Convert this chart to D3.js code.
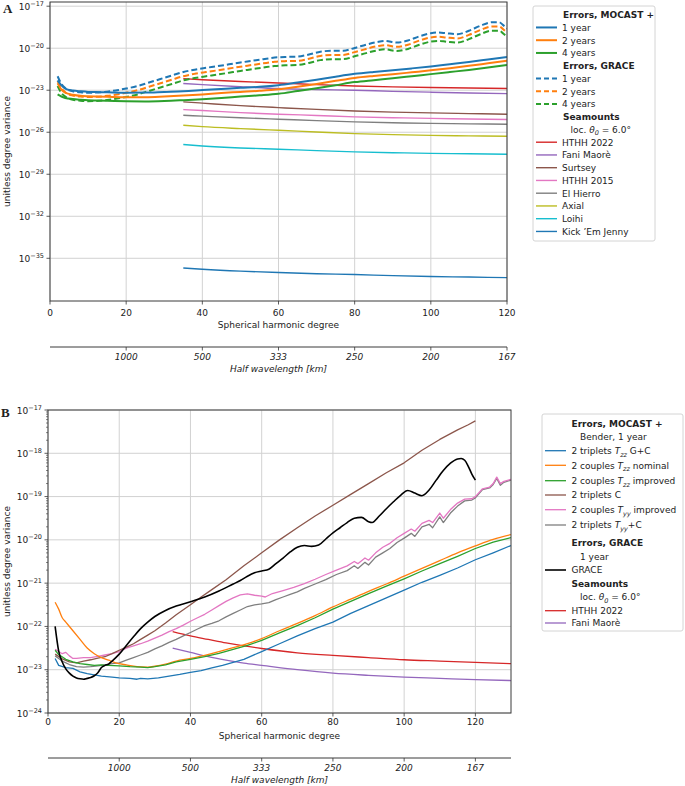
<!DOCTYPE html>
<html>
<head>
<meta charset="utf-8">
<script src="https://cdn.jsdelivr.net/npm/d3@7"></script>
<style>
  body { margin: 0; background: #fff; }
  text { font-family: "DejaVu Sans", sans-serif; fill: #222; }
</style>
</head>
<body>
<div id="chart"></div>
<script>
// all series values are log10(degree variance)

// ---- Panel A ----
const aDeg = [2,3,4,6,8,10,12,15,20,25,30,35,40,45,50,55,60,65,70,75,80,85,90,95,100,105,110,115,120];
const aMocast1 = [-22.3,-22.65,-22.88,-23.02,-23.08,-23.12,-23.13,-23.15,-23.18,-23.17,-23.12,-23.07,-22.99,-22.91,-22.83,-22.76,-22.64,-22.45,-22.25,-22.03,-21.83,-21.69,-21.57,-21.44,-21.3,-21.14,-20.98,-20.8,-20.62];
const aMocast2 = [-22.5,-22.95,-23.17,-23.32,-23.4,-23.43,-23.45,-23.47,-23.5,-23.5,-23.45,-23.38,-23.3,-23.2,-23.12,-23.04,-22.93,-22.75,-22.55,-22.33,-22.12,-21.98,-21.86,-21.72,-21.58,-21.43,-21.26,-21.08,-20.9];
const aMocast4 = [-23.3,-23.45,-23.55,-23.63,-23.68,-23.72,-23.74,-23.76,-23.79,-23.8,-23.77,-23.71,-23.64,-23.55,-23.45,-23.36,-23.25,-23.06,-22.86,-22.64,-22.42,-22.28,-22.15,-22.0,-21.85,-21.7,-21.55,-21.38,-21.2];

const aGraceDeg = [2,3,4,6,8,10,12,15,18,20,23,26,29,32,35,38,41,44,47,50,53,56,59,62,65,68,71,74,77,80,83,86,88,91,94,97,100,102,104,107,110,113,116,118,119,120];
const aGrace1 = [-22.0,-22.55,-22.85,-23.08,-23.15,-23.18,-23.17,-23.1,-22.98,-22.88,-22.7,-22.45,-22.2,-21.95,-21.7,-21.53,-21.4,-21.28,-21.15,-21.02,-20.9,-20.78,-20.67,-20.62,-20.6,-20.45,-20.25,-20.18,-20.18,-19.98,-19.75,-19.55,-19.48,-19.6,-19.45,-19.15,-18.93,-18.88,-18.93,-19.0,-18.75,-18.4,-18.15,-18.15,-18.35,-18.6];
const aGrace2 = [-22.35,-22.85,-23.15,-23.38,-23.45,-23.48,-23.47,-23.4,-23.28,-23.18,-23.0,-22.75,-22.5,-22.25,-22.0,-21.83,-21.7,-21.58,-21.45,-21.32,-21.2,-21.08,-20.97,-20.92,-20.9,-20.75,-20.55,-20.48,-20.48,-20.28,-20.05,-19.85,-19.78,-19.9,-19.75,-19.45,-19.23,-19.18,-19.23,-19.3,-19.05,-18.7,-18.45,-18.45,-18.65,-18.9];
const aGrace4 = [-22.7,-23.2,-23.45,-23.68,-23.75,-23.78,-23.77,-23.7,-23.58,-23.48,-23.3,-23.05,-22.8,-22.55,-22.3,-22.13,-22.0,-21.88,-21.75,-21.62,-21.5,-21.38,-21.27,-21.22,-21.2,-21.05,-20.85,-20.78,-20.78,-20.58,-20.35,-20.15,-20.08,-20.2,-20.05,-19.75,-19.53,-19.48,-19.53,-19.6,-19.35,-19.0,-18.75,-18.75,-18.95,-19.2];

const aSeaDeg = [35,40,50,60,70,80,90,100,110,120];
const aHthh2022 = [-22.17,-22.25,-22.38,-22.48,-22.6,-22.7,-22.76,-22.8,-22.84,-22.88];
const aFani = [-22.52,-22.6,-22.75,-22.88,-22.95,-23.0,-23.08,-23.14,-23.2,-23.24];
const aSurtsey = [-23.83,-23.92,-24.1,-24.24,-24.37,-24.48,-24.56,-24.62,-24.67,-24.71];
const aHthh2015 = [-24.38,-24.45,-24.6,-24.71,-24.8,-24.9,-24.96,-25.01,-25.05,-25.09];
const aElHierro = [-24.79,-24.85,-24.97,-25.07,-25.17,-25.26,-25.32,-25.37,-25.4,-25.43];
const aAxial = [-25.5,-25.6,-25.74,-25.86,-25.98,-26.1,-26.17,-26.22,-26.26,-26.29];
const aLoihi = [-26.88,-26.98,-27.12,-27.21,-27.31,-27.4,-27.46,-27.51,-27.54,-27.57];
const aKickEm = [-35.69,-35.78,-35.92,-36.02,-36.1,-36.16,-36.24,-36.3,-36.34,-36.38];

const aYTicks = [-35,-32,-29,-26,-23,-20,-17];
const aXTicks = [0,20,40,60,80,100,120];

// ---- Panel B ----
const bGCDeg = [2,3,5,7,9,11,13,15,18,20,23,25,26,28,31,34,37,40,43,46,49,52,55,60,65,70,75,80,85,90,95,100,105,110,115,120,125,130];
const bTripletsTzzGC = [-22.74,-22.9,-22.95,-22.97,-23.05,-23.09,-23.12,-23.15,-23.17,-23.19,-23.2,-23.22,-23.2,-23.21,-23.19,-23.15,-23.11,-23.06,-23.02,-22.96,-22.9,-22.83,-22.76,-22.58,-22.4,-22.22,-22.05,-21.9,-21.7,-21.52,-21.34,-21.16,-20.98,-20.82,-20.65,-20.46,-20.3,-20.13];
const bNomDeg = [2,3,4,5,7,9,11,13,15,17,19,22,25,28,30,33,36,40,44,48,52,56,60,65,70,75,80,85,90,95,100,105,110,115,120,125,130];
const bCouplesTzzNominal = [-21.44,-21.6,-21.8,-21.9,-22.1,-22.3,-22.5,-22.63,-22.72,-22.78,-22.84,-22.89,-22.93,-22.94,-22.92,-22.87,-22.8,-22.74,-22.67,-22.58,-22.49,-22.4,-22.28,-22.1,-21.93,-21.75,-21.55,-21.37,-21.19,-21.02,-20.84,-20.66,-20.48,-20.3,-20.14,-19.99,-19.88];
const bImpDeg = [2,3,5,7,9,11,13,15,17,20,23,26,28,30,33,36,40,44,48,52,56,60,65,70,75,80,85,90,95,100,105,110,115,120,125,130];
const bCouplesTzzImproved = [-22.55,-22.65,-22.76,-22.82,-22.86,-22.88,-22.9,-22.89,-22.9,-22.91,-22.93,-22.94,-22.95,-22.93,-22.89,-22.82,-22.76,-22.7,-22.62,-22.53,-22.44,-22.32,-22.15,-21.98,-21.8,-21.6,-21.42,-21.24,-21.07,-20.9,-20.72,-20.55,-20.38,-20.2,-20.05,-19.95];
const bCDeg = [2,4,6,8,10,12,14,16,18,20,22,24,26,28,30,33,36,40,43,46,50,55,60,65,70,75,80,85,90,95,100,105,110,115,118,120];
const bTripletsC = [-22.64,-22.75,-22.82,-22.84,-22.8,-22.77,-22.73,-22.7,-22.63,-22.55,-22.48,-22.4,-22.3,-22.2,-22.1,-21.92,-21.73,-21.5,-21.32,-21.15,-20.92,-20.6,-20.3,-20.0,-19.72,-19.45,-19.2,-18.95,-18.7,-18.45,-18.22,-17.93,-17.68,-17.46,-17.34,-17.25];
const bTyyDeg = [2,3,4,5,6,7,8,10,12,14,16,18,20,22,24,26,28,30,32,34,36,38,40,42,44,46,48,50,52,54,56,58,60,61,63,66,69,72,75,78,81,84,86,87,89,90,92,94,96,98,100,102,103,105,107,108,110,111,113,115,117,119,120,122,124,125,126,127,128,130];
const bCouplesTyyImproved = [-22.53,-22.58,-22.63,-22.6,-22.68,-22.74,-22.74,-22.72,-22.72,-22.69,-22.66,-22.63,-22.58,-22.5,-22.45,-22.4,-22.34,-22.27,-22.2,-22.12,-22.05,-21.97,-21.88,-21.8,-21.72,-21.62,-21.52,-21.42,-21.34,-21.27,-21.25,-21.28,-21.3,-21.32,-21.24,-21.17,-21.1,-21.01,-20.91,-20.8,-20.7,-20.6,-20.5,-20.55,-20.42,-20.47,-20.3,-20.17,-20.08,-19.95,-19.85,-19.75,-19.8,-19.62,-19.55,-19.6,-19.38,-19.5,-19.3,-19.15,-19.06,-19.05,-19.0,-18.82,-18.78,-18.7,-18.55,-18.7,-18.65,-18.6];
const bTyyCDeg = [2,4,6,8,10,12,14,16,18,20,22,24,26,28,30,32,34,36,38,40,42,44,46,48,50,52,54,56,58,60,62,64,66,68,70,72,75,78,81,84,86,87,89,90,92,94,96,98,100,102,103,105,107,108,110,111,113,115,117,119,120,122,124,125,126,127,128,130];
const bTripletsTyyC = [-22.68,-22.8,-22.88,-22.93,-22.94,-22.93,-22.91,-22.89,-22.86,-22.84,-22.78,-22.72,-22.66,-22.6,-22.52,-22.45,-22.37,-22.3,-22.22,-22.14,-22.06,-21.98,-21.93,-21.87,-21.78,-21.7,-21.62,-21.54,-21.5,-21.48,-21.45,-21.38,-21.32,-21.26,-21.2,-21.12,-21.02,-20.92,-20.8,-20.71,-20.6,-20.66,-20.52,-20.58,-20.4,-20.3,-20.2,-20.06,-19.96,-19.85,-19.92,-19.7,-19.64,-19.72,-19.47,-19.6,-19.38,-19.22,-19.1,-19.08,-19.03,-18.84,-18.8,-18.72,-18.58,-18.74,-18.67,-18.62];
const bGraceDeg = [2,3,4,5,6,7,8,9,10,11,12,13,14,15,16,17,18,20,22,24,26,28,30,33,36,40,44,48,52,54,56,58,60,62,64,66,68,70,72,74,76,78,80,82,84,86,88,90,91,93,95,97,99,101,103,105,107,109,111,113,115,116,117,118,119,120];
const bGrace = [-22.0,-22.57,-22.82,-22.98,-23.08,-23.15,-23.19,-23.21,-23.22,-23.2,-23.18,-23.14,-23.07,-22.95,-22.9,-22.87,-22.8,-22.64,-22.44,-22.24,-22.05,-21.9,-21.77,-21.63,-21.53,-21.43,-21.32,-21.18,-21.02,-20.94,-20.84,-20.76,-20.72,-20.68,-20.55,-20.42,-20.28,-20.17,-20.13,-20.15,-20.12,-19.98,-19.84,-19.72,-19.6,-19.5,-19.48,-19.58,-19.6,-19.45,-19.28,-19.12,-18.97,-18.86,-18.92,-18.98,-18.85,-18.62,-18.4,-18.23,-18.13,-18.12,-18.16,-18.3,-18.48,-18.62];
const bSeaDeg = [35,40,45,50,55,60,70,80,90,100,110,120,130];
const bHthh2022 = [-22.12,-22.22,-22.3,-22.38,-22.45,-22.51,-22.61,-22.67,-22.72,-22.77,-22.8,-22.83,-22.86];
const bFani = [-22.5,-22.6,-22.7,-22.78,-22.85,-22.9,-23.0,-23.08,-23.13,-23.17,-23.2,-23.23,-23.25];

const bYTicks = [-24,-23,-22,-21,-20,-19,-18,-17];
const bXTicks = [0,20,40,60,80,100,120];

// half wavelength ticks of the secondary axis
const hwDeg = [20,40,60,80,100,120];
const hwLabels = ["1000","500","333","250","200","167"];

const C = {blue:"#1f77b4", orange:"#ff7f0e", green:"#2ca02c", red:"#d62728", purple:"#9467bd",
           brown:"#8c564b", pink:"#e377c2", gray:"#7f7f7f", olive:"#bcbd22", cyan:"#17becf", black:"#000"};

class degreePanel {

    constructor(svg, cfg) {
        this.svg = svg;
        this.cfg = cfg;
        this.initVis()
    }

    initVis() {
        let vis = this
        let c = vis.cfg

        vis.x = d3.scaleLinear().domain(c.xDomain).range([c.left, c.right])
        vis.y = d3.scaleLog().domain(c.yDomain.map(e => Math.pow(10, e))).range([c.bottom, c.top])
        vis.g = vis.svg.append("g")

        // grid
        vis.g.selectAll(".vgrid").data(c.xTicks).enter().append("line")
            .attr("x1", d => vis.x(d)).attr("x2", d => vis.x(d))
            .attr("y1", c.top).attr("y2", c.bottom)
            .attr("stroke", "#d2d2d2").attr("stroke-width", 1)
        vis.g.selectAll(".hgrid").data(c.yTicks).enter().append("line")
            .attr("x1", c.left).attr("x2", c.right)
            .attr("y1", d => vis.y(Math.pow(10, d))).attr("y2", d => vis.y(Math.pow(10, d)))
            .attr("stroke", "#d2d2d2").attr("stroke-width", 1)

        // clip
        vis.svg.append("clipPath").attr("id", "clip" + c.id).append("rect")
            .attr("x", c.left).attr("y", c.top)
            .attr("width", c.right - c.left).attr("height", c.bottom - c.top)

        let smooth = d3.line()
            .x(d => vis.x(d[0]))
            .y(d => vis.y(Math.pow(10, d[1])))
            .curve(d3.curveMonotoneX)
        let jagged = d3.line()
            .x(d => vis.x(d[0]))
            .y(d => vis.y(Math.pow(10, d[1])))

        vis.g.append("g").attr("clip-path", `url(#clip${c.id})`)
            .selectAll("path").data(c.series).enter().append("path")
            .attr("d", s => (s.jag ? jagged : smooth)(s.deg.map((n, i) => [n, s.val[i]])))
            .attr("fill", "none")
            .attr("stroke", s => s.color)
            .attr("stroke-width", s => s.width)
            .attr("stroke-dasharray", s => s.dash ? s.dash : null)
            .attr("stroke-linejoin", "round")

        // minor y ticks
        if (c.minor) {
            let minors = []
            for (let e = c.yTicks[0]; e < c.yTicks[c.yTicks.length - 1]; e++) {
                for (let m = 2; m < 10; m++) minors.push(m * Math.pow(10, e))
            }
            vis.g.selectAll(".minor").data(minors).enter().append("line")
                .attr("x1", c.left - 2).attr("x2", c.left)
                .attr("y1", d => vis.y(d)).attr("y2", d => vis.y(d))
                .attr("stroke", "#333").attr("stroke-width", 0.6)
        }

        // spines
        vis.g.append("rect")
            .attr("x", c.left).attr("y", c.top)
            .attr("width", c.right - c.left).attr("height", c.bottom - c.top)
            .attr("fill", "none").attr("stroke", "#3a3a3a").attr("stroke-width", 1)

        // y ticks
        let yt = vis.g.selectAll(".ytick").data(c.yTicks).enter().append("g")
            .attr("transform", d => `translate(0, ${vis.y(Math.pow(10, d))})`)
        yt.append("line").attr("x1", c.left - 3.5).attr("x2", c.left)
            .attr("stroke", "#333").attr("stroke-width", 0.8)
        let ytx = yt.append("text").attr("x", c.left - 6).attr("y", 3.5)
            .attr("text-anchor", "end").attr("font-size", 9)
        ytx.append("tspan").text("10")
        ytx.append("tspan").attr("dy", -4).attr("font-size", 6.5).text(d => "\u2212" + Math.abs(d))

        // x ticks
        let xt = vis.g.selectAll(".xtick").data(c.xTicks).enter().append("g")
            .attr("transform", d => `translate(${vis.x(d)}, ${c.bottom})`)
        xt.append("line").attr("y1", 0).attr("y2", 3.5).attr("stroke", "#333").attr("stroke-width", 0.8)
        xt.append("text").attr("y", c.xLabelY - c.bottom).attr("text-anchor", "middle")
            .attr("font-size", 9).text(d => d)

        vis.g.append("text").attr("x", (c.left + c.right) / 2).attr("y", c.xTitleY)
            .attr("text-anchor", "middle").attr("font-size", 9).text("Spherical harmonic degree")

        vis.g.append("text")
            .attr("transform", `translate(10, ${(c.top + c.bottom) / 2}) rotate(-90)`)
            .attr("text-anchor", "middle").attr("font-size", 9).text("unitless degree variance")

        // secondary axis (half wavelength)
        vis.g.append("line").attr("x1", c.left).attr("x2", c.right)
            .attr("y1", c.secY).attr("y2", c.secY).attr("stroke", "#3a3a3a").attr("stroke-width", 1)
        let st = vis.g.selectAll(".sectick").data(hwDeg).enter().append("g")
            .attr("transform", d => `translate(${vis.x(d)}, ${c.secY})`)
        st.append("line").attr("y1", 0).attr("y2", 3.5).attr("stroke", "#333").attr("stroke-width", 0.8)
        st.append("text").attr("y", 13).attr("text-anchor", "middle").attr("font-size", 9)
            .attr("font-style", "italic").text((d, i) => hwLabels[i])
        vis.g.append("text").attr("x", (c.left + c.right) / 2).attr("y", c.secY + 25)
            .attr("text-anchor", "middle").attr("font-size", 9).attr("font-style", "italic")
            .text("Half wavelength [km]")

        // panel letter
        vis.g.append("text").attr("x", c.letterX).attr("y", c.letterY)
            .style("font-family", "'Liberation Serif', 'DejaVu Serif', serif")
            .attr("font-weight", "bold").attr("font-size", 13).text(c.letter)

        vis.drawLegend()
    }

    drawLegend() {
        let vis = this
        let L = vis.cfg.legend
        let g = vis.g.append("g")
        g.append("rect").attr("x", L.x).attr("y", L.y).attr("width", L.w).attr("height", L.h)
            .attr("rx", 2).attr("fill", "#fff").attr("stroke", "#d4d4d4").attr("stroke-width", 1)

        L.entries.forEach((e, i) => {
            let yy = L.rows[i]
            let tx = e.kind === "head" ? L.headX : e.kind === "sub" ? L.subX : L.textX
            if (e.kind === "line") {
                g.append("line").attr("x1", L.lineX).attr("x2", L.lineX + 21)
                    .attr("y1", yy).attr("y2", yy)
                    .attr("stroke", e.color).attr("stroke-width", e.width)
                    .attr("stroke-dasharray", e.dash ? e.dash : null)
            }
            let t = g.append("text").attr("x", tx).attr("y", yy + 3.3).attr("font-size", 9)
                .attr("font-weight", e.kind === "head" ? "bold" : null)
            let shift = 0
            e.label.forEach(seg => {
                if (typeof seg === "string") {
                    t.append("tspan").attr("dy", -shift).text(seg)
                    shift = 0
                } else if (seg.sub) {
                    t.append("tspan").attr("dy", 2.5 - shift).attr("font-size", 6.5)
                        .attr("font-style", "italic").text(seg.t)
                    shift = 2.5
                } else {
                    t.append("tspan").attr("dy", -shift).attr("font-style", "italic").text(seg.t)
                    shift = 0
                }
            })
        })
    }
}

const svg = d3.select("#chart").append("svg").attr("width", 685).attr("height", 786)

const lw = 2, sw = 1.4
new degreePanel(svg, {
    id: "A", letter: "A", letterX: 3, letterY: 13,
    left: 50, right: 507, top: 2, bottom: 301,
    xDomain: [0, 120], yDomain: [-38.05, -16.7],
    xTicks: aXTicks, yTicks: aYTicks, minor: false,
    xLabelY: 315.5, xTitleY: 327.5, secY: 347,
    series: [
        {deg: aSeaDeg, val: aKickEm, color: C.blue, width: sw},
        {deg: aSeaDeg, val: aLoihi, color: C.cyan, width: sw},
        {deg: aSeaDeg, val: aAxial, color: C.olive, width: sw},
        {deg: aSeaDeg, val: aElHierro, color: C.gray, width: sw},
        {deg: aSeaDeg, val: aHthh2015, color: C.pink, width: sw},
        {deg: aSeaDeg, val: aSurtsey, color: C.brown, width: sw},
        {deg: aSeaDeg, val: aFani, color: C.purple, width: sw},
        {deg: aSeaDeg, val: aHthh2022, color: C.red, width: sw},
        {deg: aGraceDeg, val: aGrace4, color: C.green, width: lw, dash: "6,3"},
        {deg: aGraceDeg, val: aGrace2, color: C.orange, width: lw, dash: "6,3"},
        {deg: aGraceDeg, val: aGrace1, color: C.blue, width: lw, dash: "6,3"},
        {deg: aDeg, val: aMocast4, color: C.green, width: lw},
        {deg: aDeg, val: aMocast2, color: C.orange, width: lw},
        {deg: aDeg, val: aMocast1, color: C.blue, width: lw}
    ],
    legend: {
        x: 533, y: 6, w: 122, h: 235, lineX: 536, textX: 562, headX: 563, subX: 570.5,
        rows: d3.range(18).map(i => 14.7 + i * 12.75),
        entries: [
            {kind: "head", label: ["Errors, MOCAST +"]},
            {kind: "line", label: ["1 year"], color: C.blue, width: lw},
            {kind: "line", label: ["2 years"], color: C.orange, width: lw},
            {kind: "line", label: ["4 years"], color: C.green, width: lw},
            {kind: "head", label: ["Errors, GRACE"]},
            {kind: "line", label: ["1 year"], color: C.blue, width: lw, dash: "5,3"},
            {kind: "line", label: ["2 years"], color: C.orange, width: lw, dash: "5,3"},
            {kind: "line", label: ["4 years"], color: C.green, width: lw, dash: "5,3"},
            {kind: "head", label: ["Seamounts"]},
            {kind: "sub", label: ["loc. ", {t: "\u03b8"}, {t: "0", sub: true}, " = 6.0\u00b0"]},
            {kind: "line", label: ["HTHH 2022"], color: C.red, width: sw},
            {kind: "line", label: ["Fani Maor\u00e8"], color: C.purple, width: sw},
            {kind: "line", label: ["Surtsey"], color: C.brown, width: sw},
            {kind: "line", label: ["HTHH 2015"], color: C.pink, width: sw},
            {kind: "line", label: ["El Hierro"], color: C.gray, width: sw},
            {kind: "line", label: ["Axial"], color: C.olive, width: sw},
            {kind: "line", label: ["Loihi"], color: C.cyan, width: sw},
            {kind: "line", label: ["Kick \u2019Em Jenny"], color: C.blue, width: sw}
        ]
    }
})

const bw = 1.3
new degreePanel(svg, {
    id: "B", letter: "B", letterX: 1, letterY: 417,
    left: 48, right: 511, top: 410, bottom: 713,
    xDomain: [0, 130], yDomain: [-24, -17],
    xTicks: bXTicks, yTicks: bYTicks, minor: true,
    xLabelY: 725, xTitleY: 738.5, secY: 758,
    series: [
        {deg: bSeaDeg, val: bFani, color: C.purple, width: bw},
        {deg: bSeaDeg, val: bHthh2022, color: C.red, width: bw},
        {deg: bTyyCDeg, val: bTripletsTyyC, color: C.gray, width: bw, jag: true},
        {deg: bTyyDeg, val: bCouplesTyyImproved, color: C.pink, width: bw, jag: true},
        {deg: bCDeg, val: bTripletsC, color: C.brown, width: bw, jag: true},
        {deg: bGCDeg, val: bTripletsTzzGC, color: C.blue, width: bw, jag: true},
        {deg: bNomDeg, val: bCouplesTzzNominal, color: C.orange, width: bw},
        {deg: bImpDeg, val: bCouplesTzzImproved, color: C.green, width: bw, jag: true},
        {deg: bGraceDeg, val: bGrace, color: C.black, width: 1.6}
    ],
    legend: {
        x: 542, y: 414, w: 141, h: 217, lineX: 545, textX: 571.5, headX: 571.5, subX: 580,
        rows: [424, 436.7, 450.7, 465.3, 480.7, 495, 509.7, 525, 543, 557, 570, 583.7, 597, 610.7, 623],
        entries: [
            {kind: "head", label: ["Errors,  MOCAST +"]},
            {kind: "sub", label: ["Bender, 1 year"]},
            {kind: "line", label: ["2 triplets ", {t: "T"}, {t: "zz", sub: true}, " G+C"], color: C.blue, width: bw},
            {kind: "line", label: ["2 couples ", {t: "T"}, {t: "zz", sub: true}, " nominal"], color: C.orange, width: bw},
            {kind: "line", label: ["2 couples ", {t: "T"}, {t: "zz", sub: true}, " improved"], color: C.green, width: bw},
            {kind: "line", label: ["2 triplets C"], color: C.brown, width: bw},
            {kind: "line", label: ["2 couples ", {t: "T"}, {t: "yy", sub: true}, " improved"], color: C.pink, width: bw},
            {kind: "line", label: ["2 triplets ", {t: "T"}, {t: "yy", sub: true}, "+C"], color: C.gray, width: bw},
            {kind: "head", label: ["Errors,  GRACE"]},
            {kind: "sub", label: ["1 year"]},
            {kind: "line", label: ["GRACE"], color: C.black, width: 1.6},
            {kind: "head", label: ["Seamounts"]},
            {kind: "sub", label: ["loc. ", {t: "\u03b8"}, {t: "0", sub: true}, " = 6.0\u00b0"]},
            {kind: "line", label: ["HTHH 2022"], color: C.red, width: bw},
            {kind: "line", label: ["Fani Maor\u00e8"], color: C.purple, width: bw}
        ]
    }
})
</script>
</body>
</html>
